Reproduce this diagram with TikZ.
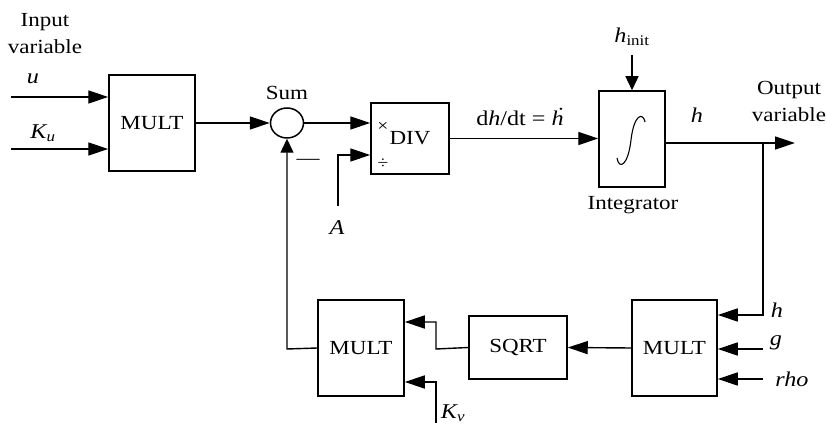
\documentclass[tikz,border=0pt]{standalone}
\usepackage{fontspec}
\setmainfont{Liberation Serif}[FakeStretch=1.15]
\usetikzlibrary{arrows.meta,shapes.geometric}
\begin{document}
\begin{tikzpicture}[x=1pt,y=-1pt,
  font=\fontsize{20}{27}\selectfont,
  line width=1.4pt,
  blk/.style={draw,rectangle,inner sep=0pt,line width=1.5pt},
  arr/.style={-{Triangle[length=20pt,width=13pt]}},
  varr/.style={-{Triangle[length=14pt,width=13pt]}},
  lbl/.style={inner sep=0pt},
  ital/.style={inner sep=0pt,font=\fontsize{21}{25}\selectfont\itshape}]
\useasboundingbox (0,0) rectangle (827,427);

% blocks
\node[blk,minimum width=86pt,minimum height=96pt] (mult1) at (152,123) {MULT};
\node[draw,ellipse,minimum width=33pt,minimum height=30pt,inner sep=0pt,line width=1.5pt] (sum) at (287,123) {};
\node[blk,minimum width=78pt,minimum height=71pt] (div) at (410,138.5) {DIV};
\node[lbl,font=\fontsize{17}{18}\selectfont] (times) at (383,127) {×};
\node[lbl,font=\fontsize{17}{18}\selectfont] (dividesign) at (383,164) {÷};
\node[blk,minimum width=66pt,minimum height=96pt] (integ) at (632,139) {};
\draw[line width=1.1pt] (617,158) .. controls (619,170) and (628,166) .. (631,140)
   .. controls (634,114) and (643,112) .. (645,122);
\node[blk,minimum width=85pt,minimum height=96pt] (mult3) at (674.5,348) {MULT};
\node[blk,minimum width=98pt,minimum height=63pt] (sqrt) at (518,347.5) {SQRT};
\node[blk,minimum width=86pt,minimum height=96pt] (mult2) at (361,348) {MULT};

% labels
\node[lbl,align=center] (invar) at (45,34) {Input\\variable};
\node[ital] (ulbl) at (33,79) {u};
\node[ital] (kulbl) at (43,133) {K\textsubscript{\textit{u}}};
\node[lbl] (sumlbl) at (287,93) {Sum};
\node[ital] (albl) at (337,228) {A};
\node[lbl] (minus) at (308,162) {—};
\node[lbl,font=\fontsize{21}{25}\selectfont] (dhdt) at (520,117)
  {d\textit{h}/dt = \textit{ḣ}};
\node[ital] (hinitlbl) at (632,37) {h\textsubscript{\upshape init}};
\node[lbl] (intlbl) at (633,205) {Integrator};
\node[ital] (hout) at (697,115) {h};
\node[lbl,align=center] (outvar) at (789,101) {Output\\variable};
\node[ital] (hlbl) at (777,310) {h};
\node[ital] (glbl) at (776,343) {g};
\node[ital] (rholbl) at (792,379) {rho};
\node[ital] (kvlbl) at (453,413) {K\textsubscript{\textit{v}}};

% coordinates
\coordinate (uin) at (11,97);
\coordinate (kuin) at (11,149);
\coordinate (ain) at (338,206);
\coordinate (acorner) at (338,155);
\coordinate (hinit) at (632,55);
\coordinate (out) at (795,143);
\coordinate (branch) at (763,143);
\coordinate (hcorner) at (763,315);
\coordinate (gin) at (763,349);
\coordinate (rhoin) at (763,379);
\coordinate (sqcorner) at (436,349);
\coordinate (sqcorner2) at (436,322);
\coordinate (kvin) at (436,423);
\coordinate (kvcorner) at (436,382);
\coordinate (fbcorner) at (287,349);

% connectors
\draw[arr] (uin) -- (uin -| mult1.west);
\draw[arr] (kuin) -- (kuin -| mult1.west);
\draw[arr] (mult1.east) -- (sum.west);
\draw[arr] (sum.east) -- (sum.east -| div.west);
\draw[arr] (ain) -- (acorner) -- (acorner -| div.west);
\draw[arr] (div.east) -- (div.east -| integ.west);
\draw[varr] (hinit) -- (integ.north);
\draw[arr] (out -| integ.east) -- (out);
\draw[arr] (branch) -- (hcorner) -- (hcorner -| mult3.east);
\draw[arr] (gin) -- (gin -| mult3.east);
\draw[arr] (rhoin) -- (rhoin -| mult3.east);
\draw[arr] (mult3.west) -- (sqrt.east);
\draw[arr] (sqrt.west) -- (sqcorner) -- (sqcorner2) -- (sqcorner2 -| mult2.east);
\draw[arr] (kvin) -- (kvcorner) -- (kvcorner -| mult2.east);
\draw[varr] (mult2.west) -- (fbcorner) -- (sum.south);
\end{tikzpicture}
\end{document}
